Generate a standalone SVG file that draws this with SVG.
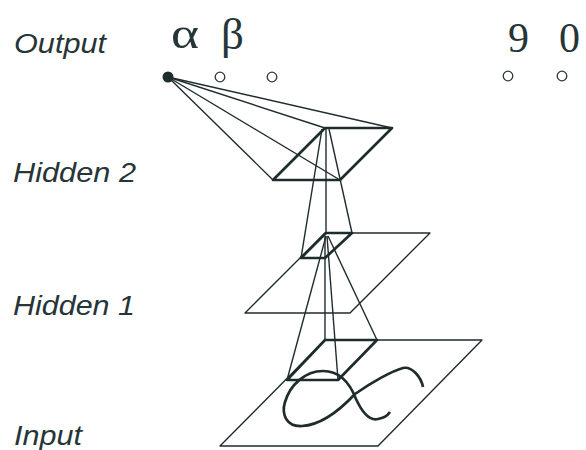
<svg xmlns="http://www.w3.org/2000/svg" width="586" height="450" viewBox="0 0 586 450">
<style>
.lbl{font-family:"Liberation Sans",Arial,sans-serif;font-style:italic;font-size:27px;fill:#263537}
.sym{font-family:"Liberation Serif","Times New Roman",serif;fill:#263537}
.thin{fill:none;stroke:#1f2c2e;stroke-width:1.4;stroke-linejoin:round}
.thick{fill:none;stroke:#1f2c2e;stroke-width:2.7;stroke-linejoin:round}
.unit{fill:#fff;stroke:#2a3839;stroke-width:1.3}
</style>
<rect width="586" height="450" fill="#fff"/>
<g id="labels">
<text class="lbl" x="14" y="53" textLength="92" lengthAdjust="spacingAndGlyphs">Output</text>
<text class="lbl" x="13" y="182" textLength="123" lengthAdjust="spacingAndGlyphs">Hidden 2</text>
<text class="lbl" x="13" y="315" textLength="122" lengthAdjust="spacingAndGlyphs">Hidden 1</text>
<text class="lbl" x="14" y="445" textLength="68" lengthAdjust="spacingAndGlyphs">Input</text>
</g>
<g id="output-layer">
<text class="sym" x="171" y="48" font-size="44" textLength="28" lengthAdjust="spacingAndGlyphs">α</text>
<text class="sym" x="221" y="49" font-size="45">β</text>
<text class="sym" x="508" y="52" font-size="42">9</text>
<text class="sym" x="559" y="52" font-size="42">0</text>
<circle cx="168" cy="77" r="5.5" fill="#1f2c2e"/>
<circle class="unit" cx="220" cy="77" r="4.8"/>
<circle class="unit" cx="272" cy="77" r="4.8"/>
<circle class="unit" cx="508" cy="76" r="4.8"/>
<circle class="unit" cx="562" cy="76" r="4.8"/>
</g>
<g id="hidden2">
<polygon class="thick" points="325,128 392,128 340,180 273,180"/>
</g>
<g id="hidden1">
<polygon class="thin" points="325,233 430,233 350,313 245,313"/>
<polygon class="thick" points="326,233 352,233 325,258 301,258"/>
</g>
<g id="input">
<polygon class="thin" points="325,340 482,340 378,446 220,446"/>
<polygon class="thick" points="325,340 377,340 338,380 287,380"/>
<path class="thick" d="M423,387 C421,377 412,366 403,368 C392,371 372,382 355,394 C340,410 322,425 302,426 C287,427 281,415 285,402 C290,385 305,371 323,371 C341,371 351,386 356,399 C362,412 370,421 378,419 C384,418 388,415 390,412"/>
</g>
<g id="connectors" class="thin">
<line x1="168" y1="77" x2="325" y2="128"/>
<line x1="168" y1="77" x2="392" y2="128"/>
<line x1="168" y1="77" x2="340" y2="180"/>
<line x1="168" y1="77" x2="273" y2="180"/>
<line x1="322" y1="129" x2="301" y2="258"/>
<line x1="326" y1="129" x2="326" y2="233"/>
<line x1="329" y1="129" x2="352" y2="233"/>
<line x1="326" y1="236" x2="287" y2="380"/>
<line x1="325" y1="236" x2="325" y2="340"/>
<line x1="327" y1="236" x2="338" y2="380"/>
<line x1="328" y1="236" x2="377" y2="340"/>
</g>
</svg>
